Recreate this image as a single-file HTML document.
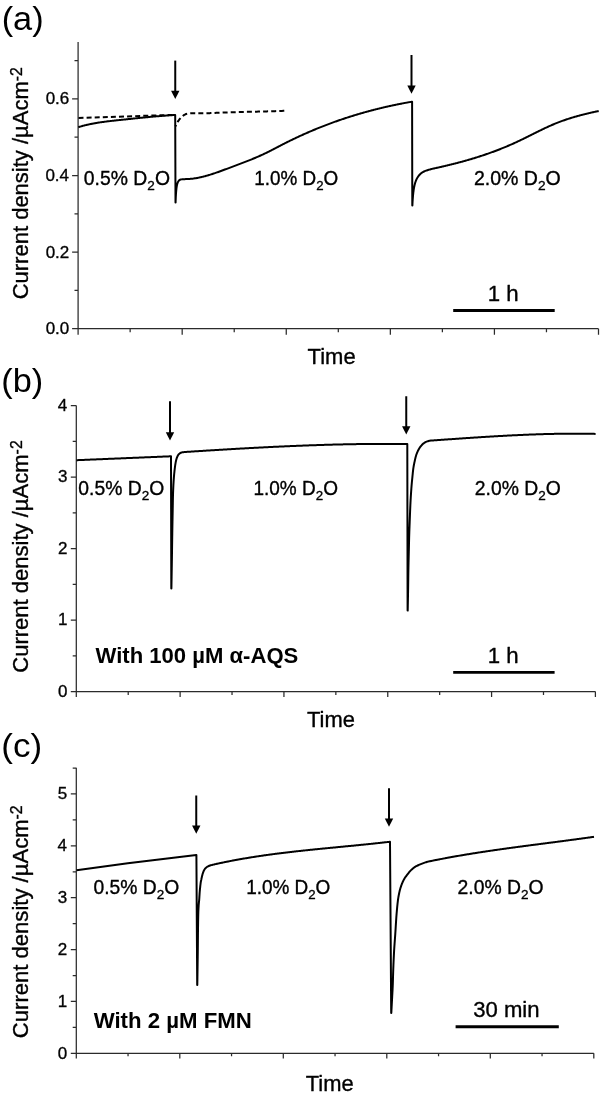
<!DOCTYPE html>
<html lang="en">
<head>
<meta charset="utf-8">
<title>Current density vs time with D2O additions</title>
<style>
html,body{margin:0;padding:0;background:#fff;}
body{width:607px;height:1100px;overflow:hidden;}
svg{display:block;}
svg text{font-family:"Liberation Sans", sans-serif;fill:#000;white-space:pre;}
</style>
</head>
<body>
<svg width="607" height="1100" viewBox="0 0 607 1100" role="img" aria-label="Three-panel chronoamperometry figure">
<rect x="0" y="0" width="607" height="1100" fill="#ffffff"/>
<g id="panel-a">
<text transform="translate(1.66 29.9) scale(1.0216 1)" font-size="33.6" fill="#000">(a)</text>
<path d="M78.1 42V328.7H598.5M72.1 328.7H78.1M72.1 252.1H78.1M72.1 175.5H78.1M72.1 98.9H78.1M74.5 290.4H78.1M74.5 213.8H78.1M74.5 137.2H78.1M74.5 60.6H78.1M78.1 328.7V334.7M130.14 328.7V332.3M182.18 328.7V334.7M234.22 328.7V332.3M286.26 328.7V334.7M338.3 328.7V332.3M390.34 328.7V334.7M442.38 328.7V332.3M494.42 328.7V334.7M546.46 328.7V332.3M598.5 328.7V334.7" fill="none" stroke="#2b2b2b" stroke-width="1.25" stroke-linecap="butt" stroke-linejoin="miter"/>
<text transform="translate(45.66 334.1) scale(1.05 1)" font-size="16.2" fill="#111" stroke="#111" stroke-width="0.35" stroke-linejoin="round">0.0</text>
<text transform="translate(45.66 257.5) scale(1.05 1)" font-size="16.2" fill="#111" stroke="#111" stroke-width="0.35" stroke-linejoin="round">0.2</text>
<text transform="translate(45.4 180.9) scale(1.05 1)" font-size="16.2" fill="#111" stroke="#111" stroke-width="0.35" stroke-linejoin="round">0.4</text>
<text transform="translate(45.66 104.3) scale(1.05 1)" font-size="16.2" fill="#111" stroke="#111" stroke-width="0.35" stroke-linejoin="round">0.6</text>
<text transform="translate(27.6 299.34) rotate(-90) scale(0.9918 1)" font-size="22.2" stroke="#000" stroke-width="0.35" stroke-linejoin="round">Current density /µAcm<tspan font-size="16" dy="-5.2">-2</tspan></text>
<path d="M78.5 118 L175.2 114.8" fill="none" stroke="#000" stroke-width="2" stroke-dasharray="5 3.1"/>
<path d="M175.5 126.4 L175.72 125.73 L175.98 125.07 L176.26 124.44 L176.56 123.81 L176.88 123.2 L177.22 122.6 L177.58 122 L177.96 121.42 L178.36 120.85 L178.77 120.29 L179.19 119.73 L179.63 119.18 L180.08 118.64 L180.55 118.11 L181.02 117.59 L181.52 117.08 L182.03 116.6 L182.55 116.14 L183.1 115.7 L183.66 115.29 L184.24 114.92 L184.84 114.59 L185.47 114.3 L186.11 114.06 L186.76 113.84 L187.43 113.67 L188.1 113.53 L188.79 113.42 L189.48 113.34 L190.17 113.29 L190.87 113.26 L191.58 113.24 L192.28 113.24 L192.99 113.25 L193.7 113.27 L194.41 113.29 L195.12 113.31 L195.83 113.32 L196.54 113.34 L197.24 113.35 L197.95 113.35 L198.65 113.36 L199.36 113.36 L200.06 113.36 L200.76 113.36 L201.46 113.35 L202.16 113.34 L202.86 113.33 L203.56 113.32 L204.25 113.31 L204.95 113.29 L205.65 113.28 L206.34 113.26 L207.04 113.24 L207.73 113.21 L208.43 113.19 L209.12 113.17 L209.81 113.14 L210.51 113.11 L211.2 113.08 L211.89 113.06 L212.58 113.03 L213.28 113 L213.97 112.97 L214.66 112.94 L215.35 112.91 L216.04 112.87 L216.74 112.84 L217.43 112.81 L218.12 112.78 L218.81 112.75 L219.5 112.72 L220.2 112.69 L220.89 112.66 L221.58 112.63 L222.28 112.61 L222.97 112.58 L223.67 112.55 L224.36 112.53 L225.05 112.5 L225.75 112.47 L226.44 112.45 L227.14 112.43 L227.83 112.4 L228.53 112.38 L229.23 112.35 L229.92 112.33 L230.62 112.31 L231.31 112.29 L232.01 112.27 L232.71 112.25 L233.4 112.22 L234.1 112.2 L234.8 112.18 L235.49 112.16 L236.19 112.14 L236.89 112.12 L237.59 112.11 L238.28 112.09 L238.98 112.07 L239.68 112.05 L240.38 112.03 L241.08 112.01 L241.78 112 L242.47 111.98 L243.17 111.96 L243.87 111.95 L244.57 111.93 L245.27 111.91 L245.97 111.89 L246.67 111.88 L247.36 111.86 L248.06 111.85 L248.76 111.83 L249.46 111.81 L250.16 111.8 L250.86 111.78 L251.56 111.76 L252.26 111.75 L252.95 111.73 L253.65 111.72 L254.35 111.7 L255.05 111.68 L255.75 111.67 L256.45 111.65 L257.15 111.63 L257.85 111.62 L258.55 111.6 L259.24 111.58 L259.94 111.57 L260.64 111.55 L261.34 111.53 L262.04 111.52 L262.74 111.5 L263.43 111.48 L264.13 111.46 L264.83 111.44 L265.53 111.43 L266.22 111.41 L266.92 111.39 L267.62 111.37 L268.32 111.35 L269.01 111.33 L269.71 111.31 L270.41 111.29 L271.1 111.27 L271.8 111.25 L272.5 111.23 L273.19 111.21 L273.89 111.18 L274.58 111.16 L275.28 111.14 L275.97 111.12 L276.67 111.09 L277.36 111.07 L278.06 111.04 L278.75 111.02 L279.45 110.99 L280.14 110.97 L280.84 110.94 L281.53 110.91 L282.22 110.89 L282.92 110.86 L283.61 110.83 L284.3 110.8" fill="none" stroke="#000" stroke-width="2.0" stroke-linejoin="round" stroke-linecap="butt" stroke-dasharray="5 3.1" stroke-dashoffset="3.35"/>
<path d="M78.3 127.2 L78.97 126.99 L79.64 126.79 L80.31 126.59 L80.98 126.39 L81.65 126.2 L82.32 126.01 L83 125.83 L83.67 125.65 L84.35 125.47 L85.02 125.3 L85.7 125.14 L86.38 124.97 L87.05 124.81 L87.73 124.66 L88.41 124.5 L89.09 124.36 L89.77 124.21 L90.45 124.07 L91.13 123.93 L91.82 123.79 L92.5 123.66 L93.18 123.53 L93.87 123.4 L94.55 123.28 L95.24 123.16 L95.92 123.04 L96.61 122.92 L97.29 122.81 L97.98 122.7 L98.67 122.59 L99.36 122.49 L100.04 122.38 L100.73 122.28 L101.42 122.18 L102.11 122.08 L102.8 121.99 L103.49 121.89 L104.18 121.8 L104.87 121.71 L105.56 121.62 L106.25 121.53 L106.94 121.45 L107.64 121.36 L108.33 121.28 L109.02 121.2 L109.71 121.12 L110.41 121.04 L111.1 120.96 L111.79 120.88 L112.48 120.8 L113.18 120.73 L113.87 120.65 L114.56 120.58 L115.26 120.5 L115.95 120.43 L116.64 120.35 L117.34 120.28 L118.03 120.21 L118.72 120.13 L119.42 120.06 L120.11 119.99 L120.8 119.92 L121.49 119.84 L122.19 119.77 L122.88 119.7 L123.57 119.62 L124.27 119.55 L124.96 119.47 L125.65 119.4 L126.35 119.33 L127.04 119.25 L127.73 119.18 L128.42 119.11 L129.12 119.03 L129.81 118.96 L130.5 118.89 L131.19 118.81 L131.89 118.74 L132.58 118.67 L133.27 118.6 L133.96 118.52 L134.66 118.45 L135.35 118.38 L136.04 118.31 L136.74 118.24 L137.43 118.16 L138.12 118.09 L138.81 118.02 L139.51 117.95 L140.2 117.88 L140.89 117.81 L141.58 117.74 L142.28 117.67 L142.97 117.6 L143.66 117.53 L144.35 117.46 L145.05 117.4 L145.74 117.33 L146.43 117.26 L147.13 117.19 L147.82 117.13 L148.51 117.06 L149.2 116.99 L149.9 116.93 L150.59 116.86 L151.28 116.8 L151.98 116.74 L152.67 116.67 L153.36 116.61 L154.06 116.55 L154.75 116.49 L155.44 116.43 L156.14 116.37 L156.83 116.31 L157.53 116.25 L158.22 116.19 L158.91 116.13 L159.61 116.07 L160.3 116.02 L161 115.96 L161.69 115.9 L162.38 115.85 L163.08 115.8 L163.77 115.74 L164.47 115.69 L165.16 115.64 L165.86 115.59 L166.55 115.54 L167.25 115.49 L167.94 115.44 L168.64 115.39 L169.33 115.34 L170.03 115.3 L170.72 115.25 L171.42 115.21 L172.12 115.16 L172.81 115.12 L173.51 115.08 L174.2 115.04 L174.9 115 L175.2 115 L175.5 202.4 L175.6 202.4 L175.61 201.7 L175.63 201 L175.65 200.3 L175.68 199.6 L175.71 198.9 L175.74 198.2 L175.77 197.5 L175.8 196.8 L175.84 196.11 L175.88 195.41 L175.92 194.71 L175.96 194.01 L176.01 193.31 L176.06 192.61 L176.12 191.92 L176.18 191.22 L176.24 190.52 L176.31 189.83 L176.39 189.13 L176.46 188.43 L176.55 187.74 L176.65 187.04 L176.75 186.35 L176.87 185.66 L177 184.98 L177.16 184.3 L177.36 183.62 L177.58 182.95 L177.84 182.31 L178.15 181.67 L178.52 181.06 L178.95 180.54 L179.49 180.05 L180.09 179.7 L180.74 179.51 L181.44 179.37 L182.14 179.29 L182.84 179.24 L183.54 179.2 L184.24 179.18 L184.94 179.15 L185.64 179.12 L186.34 179.09 L187.04 179.07 L187.74 179.04 L188.44 179.01 L189.14 178.97 L189.83 178.93 L190.53 178.86 L191.23 178.8 L191.92 178.72 L192.62 178.64 L193.31 178.56 L194.01 178.46 L194.7 178.36 L195.39 178.26 L196.08 178.14 L196.77 178.02 L197.46 177.9 L198.15 177.77 L198.83 177.63 L199.52 177.49 L200.2 177.34 L200.89 177.19 L201.57 177.04 L202.25 176.88 L202.93 176.71 L203.61 176.54 L204.29 176.37 L204.96 176.19 L205.64 176 L206.31 175.82 L206.99 175.63 L207.66 175.44 L208.33 175.24 L209 175.04 L209.67 174.83 L210.34 174.63 L211.01 174.42 L211.67 174.21 L212.34 173.99 L213.01 173.77 L213.67 173.55 L214.33 173.33 L215 173.11 L215.66 172.88 L216.32 172.65 L216.98 172.42 L217.64 172.19 L218.3 171.96 L218.96 171.72 L219.62 171.49 L220.28 171.25 L220.93 171.01 L221.59 170.77 L222.25 170.53 L222.9 170.28 L223.56 170.04 L224.22 169.8 L224.87 169.55 L225.53 169.31 L226.18 169.06 L226.84 168.82 L227.49 168.57 L228.15 168.33 L228.81 168.08 L229.46 167.84 L230.12 167.59 L230.77 167.35 L231.43 167.1 L232.08 166.86 L232.74 166.61 L233.39 166.37 L234.05 166.12 L234.7 165.88 L235.36 165.63 L236.02 165.39 L236.67 165.14 L237.33 164.9 L237.98 164.65 L238.64 164.4 L239.29 164.16 L239.95 163.91 L240.6 163.66 L241.25 163.41 L241.91 163.16 L242.56 162.91 L243.21 162.66 L243.87 162.41 L244.52 162.16 L245.17 161.91 L245.83 161.65 L246.48 161.4 L247.13 161.14 L247.78 160.89 L248.43 160.63 L249.08 160.37 L249.73 160.11 L250.38 159.85 L251.03 159.59 L251.68 159.32 L252.32 159.06 L252.97 158.79 L253.62 158.52 L254.26 158.25 L254.91 157.98 L255.55 157.71 L256.2 157.43 L256.84 157.16 L257.48 156.88 L258.12 156.6 L258.76 156.32 L259.4 156.04 L260.04 155.75 L260.68 155.47 L261.32 155.18 L261.96 154.89 L262.59 154.6 L263.23 154.3 L263.86 154.01 L264.49 153.71 L265.13 153.41 L265.76 153.1 L266.39 152.8 L267.02 152.49 L267.64 152.18 L268.27 151.87 L268.9 151.56 L269.52 151.25 L270.15 150.93 L270.77 150.61 L271.39 150.3 L272.02 149.98 L272.64 149.65 L273.26 149.33 L273.88 149.01 L274.5 148.69 L275.12 148.36 L275.74 148.04 L276.36 147.71 L276.98 147.39 L277.6 147.06 L278.22 146.74 L278.84 146.41 L279.46 146.09 L280.08 145.77 L280.7 145.44 L281.32 145.12 L281.94 144.8 L282.57 144.48 L283.19 144.16 L283.81 143.84 L284.44 143.52 L285.06 143.21 L285.68 142.89 L286.31 142.58 L286.94 142.26 L287.56 141.95 L288.19 141.64 L288.82 141.33 L289.44 141.02 L290.07 140.71 L290.7 140.4 L291.33 140.1 L291.96 139.79 L292.59 139.49 L293.22 139.18 L293.85 138.88 L294.48 138.58 L295.11 138.28 L295.75 137.98 L296.38 137.68 L297.01 137.38 L297.65 137.09 L298.28 136.79 L298.91 136.5 L299.55 136.2 L300.19 135.91 L300.82 135.62 L301.46 135.33 L302.1 135.04 L302.73 134.75 L303.37 134.47 L304.01 134.18 L304.65 133.89 L305.29 133.61 L305.93 133.33 L306.57 133.04 L307.21 132.76 L307.85 132.48 L308.49 132.21 L309.14 131.93 L309.78 131.65 L310.42 131.37 L311.07 131.1 L311.71 130.83 L312.35 130.55 L313 130.28 L313.64 130.01 L314.29 129.74 L314.94 129.47 L315.58 129.21 L316.23 128.94 L316.88 128.67 L317.53 128.41 L318.17 128.15 L318.82 127.88 L319.47 127.62 L320.12 127.36 L320.77 127.1 L321.42 126.85 L322.07 126.59 L322.72 126.33 L323.38 126.08 L324.03 125.83 L324.68 125.57 L325.33 125.32 L325.99 125.07 L326.64 124.82 L327.3 124.57 L327.95 124.33 L328.61 124.08 L329.26 123.83 L329.92 123.59 L330.57 123.35 L331.23 123.1 L331.89 122.86 L332.54 122.62 L333.2 122.38 L333.86 122.15 L334.52 121.91 L335.18 121.67 L335.84 121.44 L336.5 121.21 L337.16 120.97 L337.82 120.74 L338.48 120.51 L339.14 120.28 L339.8 120.05 L340.46 119.83 L341.12 119.6 L341.79 119.37 L342.45 119.15 L343.11 118.93 L343.78 118.71 L344.44 118.48 L345.1 118.27 L345.77 118.05 L346.43 117.83 L347.1 117.61 L347.76 117.4 L348.43 117.18 L349.1 116.97 L349.76 116.76 L350.43 116.54 L351.1 116.33 L351.77 116.12 L352.43 115.92 L353.1 115.71 L353.77 115.5 L354.44 115.3 L355.11 115.09 L355.78 114.89 L356.45 114.69 L357.12 114.49 L357.79 114.29 L358.46 114.09 L359.13 113.89 L359.8 113.7 L360.48 113.5 L361.15 113.31 L361.82 113.11 L362.49 112.92 L363.17 112.73 L363.84 112.54 L364.51 112.35 L365.19 112.16 L365.86 111.97 L366.54 111.79 L367.21 111.6 L367.89 111.42 L368.56 111.24 L369.24 111.05 L369.91 110.87 L370.59 110.69 L371.27 110.51 L371.94 110.34 L372.62 110.16 L373.3 109.98 L373.98 109.81 L374.65 109.63 L375.33 109.46 L376.01 109.29 L376.69 109.12 L377.37 108.95 L378.05 108.78 L378.73 108.61 L379.41 108.45 L380.09 108.28 L380.77 108.12 L381.45 107.95 L382.13 107.79 L382.81 107.63 L383.49 107.47 L384.17 107.31 L384.85 107.15 L385.53 106.99 L386.22 106.84 L386.9 106.68 L387.58 106.53 L388.26 106.38 L388.95 106.22 L389.63 106.07 L390.31 105.92 L391 105.77 L391.68 105.62 L392.37 105.48 L393.05 105.33 L393.73 105.19 L394.42 105.04 L395.1 104.9 L395.79 104.76 L396.47 104.61 L397.16 104.47 L397.85 104.33 L398.53 104.2 L399.22 104.06 L399.9 103.92 L400.59 103.79 L401.28 103.65 L401.96 103.52 L402.65 103.39 L403.34 103.25 L404.03 103.12 L404.71 102.99 L405.4 102.87 L406.09 102.74 L406.78 102.61 L407.47 102.49 L408.15 102.36 L408.84 102.24 L409.53 102.11 L410.22 101.99 L410.91 101.87 L411.6 101.75 L412.1 101.75 L412.3 205.5 L412.4 205.5 L412.42 204.8 L412.45 204.1 L412.48 203.4 L412.52 202.7 L412.56 202 L412.6 201.31 L412.64 200.61 L412.69 199.91 L412.74 199.21 L412.79 198.51 L412.84 197.82 L412.89 197.12 L412.95 196.42 L413.01 195.73 L413.07 195.03 L413.14 194.33 L413.21 193.64 L413.29 192.94 L413.37 192.24 L413.46 191.55 L413.55 190.86 L413.65 190.17 L413.75 189.47 L413.86 188.78 L413.97 188.09 L414.1 187.4 L414.23 186.71 L414.37 186.03 L414.52 185.34 L414.68 184.67 L414.85 183.99 L415.04 183.31 L415.24 182.64 L415.46 181.97 L415.69 181.31 L415.94 180.66 L416.2 180.01 L416.49 179.38 L416.81 178.75 L417.15 178.13 L417.5 177.52 L417.87 176.94 L418.26 176.36 L418.68 175.79 L419.13 175.24 L419.59 174.72 L420.07 174.23 L420.59 173.74 L421.12 173.28 L421.68 172.85 L422.26 172.45 L422.85 172.1 L423.46 171.77 L424.1 171.47 L424.74 171.19 L425.4 170.93 L426.05 170.68 L426.71 170.45 L427.37 170.23 L428.04 170.01 L428.71 169.81 L429.38 169.61 L430.06 169.42 L430.73 169.24 L431.41 169.06 L432.09 168.89 L432.77 168.73 L433.45 168.57 L434.14 168.43 L434.82 168.28 L435.51 168.14 L436.19 167.98 L436.87 167.83 L437.56 167.68 L438.24 167.53 L438.92 167.37 L439.6 167.22 L440.28 167.07 L440.97 166.91 L441.65 166.75 L442.33 166.6 L443.01 166.44 L443.69 166.28 L444.37 166.12 L445.06 165.96 L445.74 165.8 L446.42 165.64 L447.1 165.47 L447.78 165.31 L448.46 165.14 L449.14 164.98 L449.82 164.81 L450.5 164.65 L451.17 164.48 L451.85 164.31 L452.53 164.14 L453.21 163.97 L453.89 163.8 L454.57 163.62 L455.24 163.45 L455.92 163.28 L456.6 163.1 L457.28 162.92 L457.95 162.75 L458.63 162.57 L459.31 162.39 L459.98 162.21 L460.66 162.03 L461.33 161.84 L462.01 161.66 L462.68 161.48 L463.36 161.29 L464.03 161.1 L464.7 160.92 L465.38 160.73 L466.05 160.54 L466.72 160.35 L467.4 160.15 L468.07 159.96 L468.74 159.76 L469.41 159.57 L470.08 159.37 L470.76 159.17 L471.43 158.98 L472.1 158.78 L472.77 158.57 L473.44 158.37 L474.11 158.17 L474.77 157.96 L475.44 157.76 L476.11 157.55 L476.78 157.34 L477.45 157.13 L478.11 156.92 L478.78 156.71 L479.45 156.49 L480.11 156.28 L480.78 156.06 L481.44 155.84 L482.11 155.62 L482.77 155.4 L483.43 155.18 L484.1 154.96 L484.76 154.74 L485.42 154.51 L486.08 154.28 L486.75 154.06 L487.41 153.83 L488.07 153.6 L488.73 153.36 L489.39 153.13 L490.05 152.9 L490.7 152.66 L491.36 152.42 L492.02 152.18 L492.68 151.94 L493.33 151.7 L493.99 151.46 L494.64 151.22 L495.3 150.97 L495.95 150.72 L496.61 150.47 L497.26 150.22 L497.91 149.97 L498.57 149.72 L499.22 149.47 L499.87 149.21 L500.52 148.95 L501.17 148.69 L501.82 148.43 L502.47 148.17 L503.12 147.91 L503.76 147.65 L504.41 147.38 L505.06 147.11 L505.7 146.84 L506.35 146.57 L506.99 146.3 L507.64 146.03 L508.28 145.75 L508.92 145.48 L509.57 145.2 L510.21 144.92 L510.85 144.64 L511.49 144.36 L512.13 144.08 L512.77 143.79 L513.41 143.5 L514.04 143.22 L514.68 142.93 L515.32 142.64 L515.95 142.34 L516.59 142.05 L517.22 141.75 L517.85 141.46 L518.49 141.16 L519.12 140.86 L519.75 140.56 L520.38 140.26 L521.01 139.95 L521.64 139.65 L522.27 139.34 L522.9 139.04 L523.53 138.73 L524.16 138.42 L524.78 138.11 L525.41 137.8 L526.04 137.49 L526.67 137.18 L527.29 136.87 L527.92 136.56 L528.55 136.25 L529.17 135.94 L529.8 135.62 L530.42 135.31 L531.05 135 L531.68 134.69 L532.3 134.37 L532.93 134.06 L533.55 133.75 L534.18 133.44 L534.81 133.12 L535.43 132.81 L536.06 132.5 L536.69 132.19 L537.31 131.88 L537.94 131.57 L538.57 131.26 L539.2 130.95 L539.82 130.65 L540.45 130.34 L541.08 130.03 L541.71 129.73 L542.34 129.43 L542.97 129.12 L543.6 128.82 L544.24 128.52 L544.87 128.22 L545.5 127.93 L546.14 127.63 L546.77 127.34 L547.41 127.04 L548.04 126.75 L548.68 126.46 L549.32 126.17 L549.96 125.89 L550.59 125.61 L551.24 125.32 L551.88 125.04 L552.52 124.77 L553.16 124.49 L553.81 124.22 L554.45 123.95 L555.1 123.68 L555.75 123.42 L556.39 123.16 L557.04 122.9 L557.7 122.64 L558.35 122.39 L559 122.13 L559.65 121.88 L560.31 121.64 L560.96 121.39 L561.62 121.15 L562.28 120.91 L562.94 120.68 L563.6 120.44 L564.26 120.21 L564.92 119.98 L565.58 119.76 L566.24 119.53 L566.9 119.31 L567.57 119.09 L568.23 118.87 L568.9 118.66 L569.57 118.44 L570.23 118.23 L570.9 118.03 L571.57 117.82 L572.24 117.61 L572.91 117.41 L573.58 117.21 L574.25 117.02 L574.92 116.82 L575.59 116.63 L576.27 116.43 L576.94 116.24 L577.61 116.06 L578.29 115.87 L578.96 115.69 L579.64 115.5 L580.31 115.32 L580.99 115.14 L581.67 114.97 L582.34 114.79 L583.02 114.62 L583.7 114.45 L584.38 114.28 L585.06 114.11 L585.74 113.94 L586.42 113.77 L587.1 113.61 L587.78 113.45 L588.46 113.29 L589.14 113.12 L589.82 112.97 L590.5 112.81 L591.18 112.65 L591.87 112.5 L592.55 112.34 L593.23 112.19 L593.91 112.04 L594.6 111.89 L595.28 111.74 L595.96 111.59 L596.65 111.44 L597.33 111.29 L598.02 111.15 L598.7 111" fill="none" stroke="#000" stroke-width="2.0" stroke-linejoin="round" stroke-linecap="butt"/>
<line x1="175.25" y1="60.6" x2="175.25" y2="91.8" stroke="#000" stroke-width="2.0"/><polygon points="171.05,90.8 179.45,90.8 175.25,99" fill="#000"/>
<line x1="411.5" y1="55" x2="411.5" y2="86.55" stroke="#000" stroke-width="2.0"/><polygon points="407.3,85.55 415.7,85.55 411.5,93.75" fill="#000"/>
<text transform="translate(83.85 185.4) scale(0.9988 1)" font-size="19.4" fill="#000" stroke="#000" stroke-width="0.35" stroke-linejoin="round">0.5% D<tspan font-size="13.58" dy="5.04">2</tspan><tspan dy="-5.04">O</tspan></text>
<text transform="translate(254.34 185.2) scale(0.9731 1)" font-size="19.4" fill="#000" stroke="#000" stroke-width="0.35" stroke-linejoin="round">1.0% D<tspan font-size="13.58" dy="5.04">2</tspan><tspan dy="-5.04">O</tspan></text>
<text transform="translate(473.89 185.4) scale(1.0077 1)" font-size="19.4" fill="#000" stroke="#000" stroke-width="0.35" stroke-linejoin="round">2.0% D<tspan font-size="13.58" dy="5.04">2</tspan><tspan dy="-5.04">O</tspan></text>
<line x1="453.2" y1="310.5" x2="554.7" y2="310.5" stroke="#000" stroke-width="3"/>
<text transform="translate(487.7 301.4) scale(1.0259 1)" font-size="21.7" fill="#000" stroke="#000" stroke-width="0.35" stroke-linejoin="round">1 h</text>
<text transform="translate(307.59 364.3) scale(1.0141 1)" font-size="21.7" fill="#000" stroke="#000" stroke-width="0.35" stroke-linejoin="round">Time</text>
</g>
<g id="panel-b">
<text transform="translate(1.36 391.8) scale(1.0216 1)" font-size="33.6" fill="#000">(b)</text>
<path d="M76.3 405.4V691.5H595.4M70.8 691.5H76.3M70.8 620H76.3M70.8 548.5H76.3M70.8 477H76.3M70.8 405.5H76.3M72.7 655.75H76.3M72.7 584.25H76.3M72.7 512.75H76.3M72.7 441.25H76.3M76.3 691.5V697M128.21 691.5V695.1M180.12 691.5V697M232.03 691.5V695.1M283.94 691.5V697M335.85 691.5V695.1M387.76 691.5V697M439.67 691.5V695.1M491.58 691.5V697M543.49 691.5V695.1M595.4 691.5V697" fill="none" stroke="#2b2b2b" stroke-width="1.25" stroke-linecap="butt" stroke-linejoin="miter"/>
<text transform="translate(57.94 696.8) scale(1.05 1)" font-size="16.2" fill="#111" stroke="#111" stroke-width="0.35" stroke-linejoin="round">0</text>
<text transform="translate(57.94 625.3) scale(1.05 1)" font-size="16.2" fill="#111" stroke="#111" stroke-width="0.35" stroke-linejoin="round">1</text>
<text transform="translate(57.94 553.8) scale(1.05 1)" font-size="16.2" fill="#111" stroke="#111" stroke-width="0.35" stroke-linejoin="round">2</text>
<text transform="translate(57.94 482.3) scale(1.05 1)" font-size="16.2" fill="#111" stroke="#111" stroke-width="0.35" stroke-linejoin="round">3</text>
<text transform="translate(57.67 410.8) scale(1.05 1)" font-size="16.2" fill="#111" stroke="#111" stroke-width="0.35" stroke-linejoin="round">4</text>
<text transform="translate(27.6 672.74) rotate(-90) scale(0.9925 1)" font-size="22.2" stroke="#000" stroke-width="0.35" stroke-linejoin="round">Current density /µAcm<tspan font-size="16" dy="-5.2">-2</tspan></text>
<path d="M76.5 460.2 L77.2 460.17 L77.89 460.14 L78.59 460.11 L79.29 460.08 L79.99 460.06 L80.68 460.03 L81.38 460 L82.08 459.97 L82.77 459.94 L83.47 459.91 L84.17 459.88 L84.86 459.85 L85.56 459.83 L86.26 459.8 L86.96 459.77 L87.65 459.74 L88.35 459.71 L89.05 459.68 L89.74 459.65 L90.44 459.62 L91.14 459.59 L91.83 459.57 L92.53 459.54 L93.23 459.51 L93.93 459.48 L94.62 459.45 L95.32 459.42 L96.02 459.39 L96.71 459.36 L97.41 459.34 L98.11 459.31 L98.81 459.28 L99.5 459.25 L100.2 459.22 L100.9 459.19 L101.59 459.16 L102.29 459.13 L102.99 459.1 L103.68 459.08 L104.38 459.05 L105.08 459.02 L105.78 458.99 L106.47 458.96 L107.17 458.93 L107.87 458.9 L108.56 458.87 L109.26 458.84 L109.96 458.82 L110.65 458.79 L111.35 458.76 L112.05 458.73 L112.75 458.7 L113.44 458.67 L114.14 458.64 L114.84 458.61 L115.53 458.59 L116.23 458.56 L116.93 458.53 L117.63 458.5 L118.32 458.47 L119.02 458.44 L119.72 458.41 L120.41 458.38 L121.11 458.35 L121.81 458.33 L122.5 458.3 L123.2 458.27 L123.9 458.24 L124.6 458.21 L125.29 458.18 L125.99 458.15 L126.69 458.12 L127.38 458.09 L128.08 458.07 L128.78 458.04 L129.47 458.01 L130.17 457.98 L130.87 457.95 L131.57 457.92 L132.26 457.89 L132.96 457.86 L133.66 457.83 L134.35 457.8 L135.05 457.78 L135.75 457.75 L136.45 457.72 L137.14 457.69 L137.84 457.66 L138.54 457.63 L139.23 457.6 L139.93 457.57 L140.63 457.54 L141.32 457.52 L142.02 457.49 L142.72 457.46 L143.42 457.43 L144.11 457.4 L144.81 457.37 L145.51 457.34 L146.2 457.31 L146.9 457.28 L147.6 457.26 L148.29 457.23 L148.99 457.2 L149.69 457.17 L150.39 457.14 L151.08 457.11 L151.78 457.08 L152.48 457.05 L153.17 457.02 L153.87 457 L154.57 456.97 L155.27 456.94 L155.96 456.91 L156.66 456.88 L157.36 456.85 L158.05 456.82 L158.75 456.79 L159.45 456.76 L160.14 456.73 L160.84 456.71 L161.54 456.68 L162.24 456.65 L162.93 456.62 L163.63 456.59 L164.33 456.56 L165.02 456.53 L165.72 456.5 L166.42 456.47 L167.11 456.44 L167.81 456.42 L168.51 456.39 L169.21 456.36 L169.9 456.33 L170.6 456.3 L171 456.3 L171.3 588.5 L171.4 588.5 L171.41 587.8 L171.43 587.1 L171.44 586.4 L171.45 585.71 L171.46 585.01 L171.48 584.31 L171.49 583.61 L171.5 582.91 L171.51 582.21 L171.52 581.51 L171.54 580.82 L171.55 580.12 L171.56 579.42 L171.57 578.72 L171.59 578.02 L171.6 577.32 L171.61 576.62 L171.62 575.93 L171.63 575.23 L171.65 574.53 L171.66 573.83 L171.67 573.13 L171.68 572.43 L171.69 571.73 L171.7 571.03 L171.72 570.34 L171.73 569.64 L171.74 568.94 L171.75 568.24 L171.76 567.54 L171.77 566.84 L171.79 566.14 L171.8 565.45 L171.81 564.75 L171.82 564.05 L171.83 563.35 L171.84 562.65 L171.85 561.95 L171.86 561.25 L171.88 560.56 L171.89 559.86 L171.9 559.16 L171.91 558.46 L171.92 557.76 L171.93 557.06 L171.94 556.36 L171.95 555.67 L171.96 554.97 L171.97 554.27 L171.98 553.57 L171.99 552.87 L172 552.17 L172.01 551.47 L172.02 550.77 L172.03 550.08 L172.04 549.38 L172.05 548.68 L172.06 547.98 L172.07 547.28 L172.08 546.58 L172.09 545.88 L172.1 545.19 L172.11 544.49 L172.12 543.79 L172.13 543.09 L172.14 542.39 L172.15 541.69 L172.16 540.99 L172.17 540.3 L172.18 539.6 L172.19 538.9 L172.2 538.2 L172.21 537.5 L172.22 536.8 L172.24 536.1 L172.25 535.4 L172.26 534.71 L172.27 534.01 L172.28 533.31 L172.29 532.61 L172.3 531.91 L172.31 531.21 L172.32 530.51 L172.34 529.82 L172.35 529.12 L172.36 528.42 L172.37 527.72 L172.38 527.02 L172.4 526.32 L172.41 525.62 L172.42 524.93 L172.43 524.23 L172.45 523.53 L172.46 522.83 L172.47 522.13 L172.48 521.43 L172.5 520.73 L172.51 520.04 L172.52 519.34 L172.54 518.64 L172.55 517.94 L172.56 517.24 L172.58 516.54 L172.59 515.84 L172.6 515.15 L172.62 514.45 L172.63 513.75 L172.64 513.05 L172.66 512.35 L172.67 511.65 L172.68 510.95 L172.7 510.26 L172.71 509.56 L172.72 508.86 L172.73 508.16 L172.75 507.46 L172.76 506.76 L172.77 506.06 L172.78 505.37 L172.8 504.67 L172.81 503.97 L172.82 503.27 L172.83 502.57 L172.85 501.87 L172.86 501.17 L172.87 500.47 L172.89 499.78 L172.9 499.08 L172.92 498.38 L172.93 497.68 L172.95 496.98 L172.97 496.28 L172.98 495.59 L173 494.89 L173.02 494.19 L173.04 493.49 L173.07 492.79 L173.09 492.09 L173.12 491.4 L173.14 490.7 L173.17 490 L173.2 489.3 L173.23 488.6 L173.26 487.9 L173.29 487.21 L173.33 486.51 L173.36 485.81 L173.39 485.11 L173.43 484.42 L173.47 483.72 L173.51 483.02 L173.55 482.32 L173.59 481.62 L173.64 480.93 L173.69 480.23 L173.73 479.53 L173.78 478.84 L173.84 478.14 L173.89 477.44 L173.94 476.75 L174 476.05 L174.06 475.35 L174.12 474.66 L174.19 473.96 L174.26 473.27 L174.33 472.57 L174.4 471.88 L174.47 471.18 L174.55 470.49 L174.62 469.79 L174.7 469.1 L174.79 468.4 L174.87 467.71 L174.96 467.02 L175.05 466.32 L175.15 465.63 L175.25 464.94 L175.36 464.25 L175.47 463.56 L175.59 462.87 L175.72 462.18 L175.86 461.5 L176.01 460.81 L176.16 460.13 L176.34 459.46 L176.53 458.79 L176.75 458.12 L176.99 457.46 L177.25 456.82 L177.54 456.18 L177.87 455.55 L178.24 454.96 L178.65 454.41 L179.13 453.88 L179.67 453.41 L180.25 453.07 L180.88 452.77 L181.55 452.53 L182.24 452.35 L182.92 452.24 L183.6 452.15 L184.29 452.08 L184.99 452.01 L185.69 451.96 L186.4 451.91 L187.1 451.86 L187.8 451.81 L188.5 451.76 L189.19 451.72 L189.89 451.67 L190.59 451.63 L191.29 451.59 L191.98 451.54 L192.68 451.5 L193.38 451.45 L194.07 451.41 L194.77 451.36 L195.47 451.32 L196.17 451.28 L196.86 451.23 L197.56 451.19 L198.26 451.14 L198.96 451.1 L199.65 451.05 L200.35 451.01 L201.05 450.97 L201.75 450.92 L202.44 450.88 L203.14 450.83 L203.84 450.79 L204.53 450.75 L205.23 450.7 L205.93 450.66 L206.63 450.62 L207.32 450.57 L208.02 450.53 L208.72 450.49 L209.42 450.44 L210.11 450.4 L210.81 450.36 L211.51 450.31 L212.21 450.27 L212.9 450.23 L213.6 450.19 L214.3 450.14 L215 450.1 L215.69 450.06 L216.39 450.02 L217.09 449.97 L217.78 449.93 L218.48 449.89 L219.18 449.85 L219.88 449.8 L220.57 449.76 L221.27 449.72 L221.97 449.68 L222.67 449.64 L223.36 449.6 L224.06 449.55 L224.76 449.51 L225.46 449.47 L226.15 449.43 L226.85 449.39 L227.55 449.35 L228.25 449.31 L228.94 449.27 L229.64 449.22 L230.34 449.18 L231.04 449.14 L231.73 449.1 L232.43 449.06 L233.13 449.02 L233.83 448.98 L234.52 448.94 L235.22 448.9 L235.92 448.86 L236.62 448.82 L237.31 448.78 L238.01 448.74 L238.71 448.7 L239.41 448.66 L240.11 448.62 L240.8 448.58 L241.5 448.54 L242.2 448.51 L242.9 448.47 L243.59 448.43 L244.29 448.39 L244.99 448.35 L245.69 448.31 L246.38 448.27 L247.08 448.24 L247.78 448.2 L248.48 448.16 L249.17 448.12 L249.87 448.08 L250.57 448.05 L251.27 448.01 L251.97 447.97 L252.66 447.93 L253.36 447.9 L254.06 447.86 L254.76 447.82 L255.45 447.78 L256.15 447.75 L256.85 447.71 L257.55 447.67 L258.25 447.64 L258.94 447.6 L259.64 447.57 L260.34 447.53 L261.04 447.49 L261.73 447.46 L262.43 447.42 L263.13 447.39 L263.83 447.35 L264.53 447.32 L265.22 447.28 L265.92 447.25 L266.62 447.21 L267.32 447.18 L268.01 447.14 L268.71 447.11 L269.41 447.07 L270.11 447.04 L270.81 447.01 L271.5 446.97 L272.2 446.94 L272.9 446.9 L273.6 446.87 L274.3 446.84 L274.99 446.8 L275.69 446.77 L276.39 446.74 L277.09 446.71 L277.78 446.67 L278.48 446.64 L279.18 446.61 L279.88 446.58 L280.58 446.54 L281.27 446.51 L281.97 446.48 L282.67 446.45 L283.37 446.42 L284.07 446.39 L284.76 446.35 L285.46 446.32 L286.16 446.29 L286.86 446.26 L287.56 446.23 L288.25 446.2 L288.95 446.17 L289.65 446.14 L290.35 446.11 L291.05 446.08 L291.75 446.05 L292.44 446.02 L293.14 445.99 L293.84 445.96 L294.54 445.94 L295.24 445.91 L295.93 445.88 L296.63 445.85 L297.33 445.82 L298.03 445.79 L298.73 445.77 L299.42 445.74 L300.12 445.71 L300.82 445.68 L301.52 445.66 L302.22 445.63 L302.92 445.6 L303.61 445.58 L304.31 445.55 L305.01 445.52 L305.71 445.5 L306.41 445.47 L307.1 445.44 L307.8 445.42 L308.5 445.39 L309.2 445.37 L309.9 445.34 L310.6 445.32 L311.29 445.29 L311.99 445.27 L312.69 445.25 L313.39 445.22 L314.09 445.2 L314.79 445.17 L315.48 445.15 L316.18 445.13 L316.88 445.1 L317.58 445.08 L318.28 445.06 L318.98 445.04 L319.67 445.01 L320.37 444.99 L321.07 444.97 L321.77 444.95 L322.47 444.93 L323.17 444.9 L323.86 444.88 L324.56 444.86 L325.26 444.84 L325.96 444.82 L326.66 444.8 L327.36 444.78 L328.05 444.76 L328.75 444.74 L329.45 444.72 L330.15 444.7 L330.85 444.68 L331.55 444.66 L332.25 444.64 L332.94 444.62 L333.64 444.61 L334.34 444.59 L335.04 444.57 L335.74 444.55 L336.44 444.54 L337.13 444.52 L337.83 444.5 L338.53 444.48 L339.23 444.47 L339.93 444.45 L340.63 444.43 L341.33 444.42 L342.02 444.4 L342.72 444.39 L343.42 444.37 L344.12 444.36 L344.82 444.34 L345.52 444.33 L346.22 444.31 L346.91 444.3 L347.61 444.28 L348.31 444.27 L349.01 444.26 L349.71 444.24 L350.41 444.23 L351.11 444.22 L351.8 444.2 L352.5 444.19 L353.2 444.18 L353.9 444.17 L354.6 444.16 L355.3 444.15 L356 444.13 L356.69 444.12 L357.39 444.11 L358.09 444.1 L358.79 444.09 L359.49 444.08 L360.19 444.07 L360.89 444.06 L361.59 444.05 L362.28 444.04 L362.98 444.03 L363.68 444.03 L364.38 444.02 L365.08 444.01 L365.78 444 L366.48 443.99 L367.17 443.99 L367.87 443.98 L368.57 443.97 L369.27 443.97 L369.97 443.96 L370.67 443.95 L371.37 443.95 L372.07 443.94 L372.76 443.94 L373.46 443.93 L374.16 443.93 L374.86 443.92 L375.56 443.92 L376.26 443.91 L376.96 443.91 L377.65 443.91 L378.35 443.9 L379.05 443.9 L379.75 443.9 L380.45 443.89 L381.15 443.89 L381.85 443.89 L382.55 443.89 L383.24 443.89 L383.94 443.89 L384.64 443.88 L385.34 443.88 L386.04 443.88 L386.74 443.88 L387.44 443.88 L388.14 443.88 L388.83 443.88 L389.53 443.89 L390.23 443.89 L390.93 443.89 L391.63 443.89 L392.33 443.89 L393.03 443.89 L393.72 443.9 L394.42 443.9 L395.12 443.9 L395.82 443.91 L396.52 443.91 L397.22 443.91 L397.92 443.92 L398.62 443.92 L399.31 443.93 L400.01 443.93 L400.71 443.94 L401.41 443.94 L402.11 443.95 L402.81 443.96 L403.51 443.96 L404.21 443.97 L404.9 443.98 L405.6 443.98 L406.3 443.99 L407 444 L407.3 444 L407.6 610.6 L407.7 610.6 L407.72 609.9 L407.73 609.2 L407.75 608.5 L407.76 607.8 L407.78 607.1 L407.79 606.4 L407.8 605.7 L407.82 605 L407.83 604.3 L407.85 603.61 L407.86 602.91 L407.88 602.21 L407.89 601.51 L407.9 600.81 L407.92 600.11 L407.93 599.41 L407.94 598.71 L407.96 598.01 L407.97 597.31 L407.98 596.61 L408 595.91 L408.01 595.21 L408.02 594.51 L408.03 593.81 L408.05 593.11 L408.06 592.41 L408.07 591.71 L408.08 591.01 L408.09 590.32 L408.11 589.62 L408.12 588.92 L408.13 588.22 L408.14 587.52 L408.15 586.82 L408.16 586.12 L408.17 585.42 L408.18 584.72 L408.19 584.02 L408.2 583.32 L408.21 582.62 L408.22 581.92 L408.23 581.22 L408.24 580.52 L408.25 579.82 L408.26 579.12 L408.26 578.42 L408.27 577.72 L408.28 577.02 L408.29 576.32 L408.3 575.62 L408.31 574.93 L408.32 574.23 L408.33 573.53 L408.34 572.83 L408.36 572.13 L408.37 571.43 L408.38 570.73 L408.39 570.03 L408.4 569.33 L408.42 568.63 L408.43 567.93 L408.44 567.23 L408.46 566.53 L408.47 565.83 L408.49 565.13 L408.5 564.43 L408.52 563.73 L408.53 563.03 L408.55 562.33 L408.57 561.64 L408.58 560.94 L408.6 560.24 L408.62 559.54 L408.63 558.84 L408.65 558.14 L408.67 557.44 L408.68 556.74 L408.7 556.04 L408.72 555.34 L408.74 554.64 L408.75 553.94 L408.77 553.24 L408.79 552.54 L408.8 551.84 L408.82 551.14 L408.84 550.44 L408.85 549.75 L408.87 549.05 L408.89 548.35 L408.9 547.65 L408.92 546.95 L408.93 546.25 L408.95 545.55 L408.97 544.85 L408.98 544.15 L409 543.45 L409.02 542.75 L409.03 542.05 L409.05 541.35 L409.07 540.65 L409.09 539.95 L409.1 539.25 L409.12 538.55 L409.14 537.86 L409.16 537.16 L409.18 536.46 L409.2 535.76 L409.22 535.06 L409.24 534.36 L409.27 533.66 L409.29 532.96 L409.31 532.26 L409.33 531.56 L409.36 530.86 L409.38 530.16 L409.41 529.46 L409.43 528.77 L409.46 528.07 L409.48 527.37 L409.51 526.67 L409.53 525.97 L409.56 525.27 L409.59 524.57 L409.61 523.87 L409.64 523.17 L409.67 522.47 L409.69 521.77 L409.72 521.07 L409.75 520.38 L409.77 519.68 L409.8 518.98 L409.83 518.28 L409.85 517.58 L409.88 516.88 L409.91 516.18 L409.93 515.48 L409.96 514.78 L409.99 514.08 L410.01 513.38 L410.04 512.69 L410.07 511.99 L410.1 511.29 L410.12 510.59 L410.15 509.89 L410.18 509.19 L410.21 508.49 L410.24 507.79 L410.27 507.09 L410.3 506.39 L410.33 505.69 L410.36 505 L410.4 504.3 L410.43 503.6 L410.46 502.9 L410.5 502.2 L410.54 501.5 L410.57 500.8 L410.61 500.11 L410.65 499.41 L410.69 498.71 L410.73 498.01 L410.77 497.31 L410.81 496.61 L410.86 495.91 L410.9 495.22 L410.94 494.52 L410.99 493.82 L411.04 493.12 L411.08 492.42 L411.13 491.73 L411.18 491.03 L411.23 490.33 L411.28 489.63 L411.33 488.93 L411.38 488.24 L411.43 487.54 L411.49 486.84 L411.54 486.14 L411.6 485.45 L411.65 484.75 L411.71 484.05 L411.77 483.36 L411.84 482.66 L411.9 481.96 L411.97 481.27 L412.04 480.57 L412.11 479.87 L412.18 479.18 L412.25 478.48 L412.32 477.78 L412.39 477.09 L412.46 476.39 L412.53 475.7 L412.6 475 L412.66 474.3 L412.73 473.6 L412.8 472.91 L412.87 472.21 L412.95 471.52 L413.02 470.82 L413.1 470.13 L413.19 469.43 L413.28 468.74 L413.38 468.05 L413.48 467.36 L413.6 466.67 L413.72 465.98 L413.84 465.29 L413.97 464.6 L414.11 463.91 L414.25 463.23 L414.39 462.54 L414.54 461.86 L414.69 461.17 L414.84 460.49 L414.99 459.81 L415.14 459.13 L415.3 458.44 L415.47 457.76 L415.65 457.08 L415.83 456.41 L416.03 455.74 L416.24 455.07 L416.46 454.41 L416.7 453.75 L416.95 453.1 L417.22 452.45 L417.5 451.81 L417.79 451.17 L418.09 450.54 L418.41 449.92 L418.75 449.3 L419.1 448.69 L419.46 448.1 L419.85 447.52 L420.26 446.95 L420.68 446.39 L421.13 445.84 L421.58 445.32 L422.06 444.81 L422.56 444.31 L423.07 443.83 L423.61 443.39 L424.17 442.98 L424.76 442.58 L425.36 442.22 L425.98 441.91 L426.63 441.63 L427.28 441.38 L427.95 441.17 L428.63 440.99 L429.31 440.84 L430 440.71 L430.69 440.61 L431.39 440.55 L432.09 440.49 L432.78 440.45 L433.48 440.4 L434.18 440.35 L434.88 440.31 L435.58 440.26 L436.28 440.21 L436.97 440.16 L437.67 440.11 L438.37 440.06 L439.07 440.01 L439.76 439.96 L440.46 439.91 L441.16 439.86 L441.86 439.81 L442.56 439.77 L443.25 439.72 L443.95 439.67 L444.65 439.62 L445.35 439.57 L446.05 439.52 L446.74 439.47 L447.44 439.42 L448.14 439.37 L448.84 439.32 L449.54 439.28 L450.23 439.23 L450.93 439.18 L451.63 439.13 L452.33 439.08 L453.02 439.03 L453.72 438.98 L454.42 438.94 L455.12 438.89 L455.82 438.84 L456.51 438.79 L457.21 438.74 L457.91 438.69 L458.61 438.65 L459.31 438.6 L460 438.55 L460.7 438.5 L461.4 438.46 L462.1 438.41 L462.8 438.36 L463.49 438.31 L464.19 438.26 L464.89 438.22 L465.59 438.17 L466.29 438.12 L466.98 438.08 L467.68 438.03 L468.38 437.98 L469.08 437.94 L469.78 437.89 L470.47 437.84 L471.17 437.8 L471.87 437.75 L472.57 437.7 L473.27 437.66 L473.97 437.61 L474.66 437.57 L475.36 437.52 L476.06 437.48 L476.76 437.43 L477.46 437.39 L478.15 437.34 L478.85 437.3 L479.55 437.25 L480.25 437.21 L480.95 437.16 L481.64 437.12 L482.34 437.07 L483.04 437.03 L483.74 436.99 L484.44 436.94 L485.14 436.9 L485.83 436.86 L486.53 436.81 L487.23 436.77 L487.93 436.73 L488.63 436.69 L489.33 436.64 L490.02 436.6 L490.72 436.56 L491.42 436.52 L492.12 436.48 L492.82 436.43 L493.52 436.39 L494.21 436.35 L494.91 436.31 L495.61 436.27 L496.31 436.23 L497.01 436.19 L497.71 436.15 L498.41 436.11 L499.1 436.07 L499.8 436.03 L500.5 435.99 L501.2 435.95 L501.9 435.92 L502.6 435.88 L503.29 435.84 L503.99 435.8 L504.69 435.76 L505.39 435.73 L506.09 435.69 L506.79 435.65 L507.49 435.62 L508.19 435.58 L508.88 435.54 L509.58 435.51 L510.28 435.47 L510.98 435.44 L511.68 435.4 L512.38 435.37 L513.08 435.33 L513.78 435.3 L514.47 435.26 L515.17 435.23 L515.87 435.2 L516.57 435.16 L517.27 435.13 L517.97 435.1 L518.67 435.07 L519.37 435.04 L520.06 435 L520.76 434.97 L521.46 434.94 L522.16 434.91 L522.86 434.88 L523.56 434.85 L524.26 434.82 L524.96 434.79 L525.66 434.76 L526.36 434.73 L527.05 434.7 L527.75 434.68 L528.45 434.65 L529.15 434.62 L529.85 434.59 L530.55 434.57 L531.25 434.54 L531.95 434.51 L532.65 434.49 L533.35 434.46 L534.05 434.44 L534.74 434.41 L535.44 434.39 L536.14 434.36 L536.84 434.34 L537.54 434.32 L538.24 434.29 L538.94 434.27 L539.64 434.25 L540.34 434.23 L541.04 434.21 L541.74 434.19 L542.44 434.16 L543.14 434.14 L543.83 434.12 L544.53 434.1 L545.23 434.09 L545.93 434.07 L546.63 434.05 L547.33 434.03 L548.03 434.01 L548.73 434 L549.43 433.98 L550.13 433.96 L550.83 433.95 L551.53 433.93 L552.23 433.92 L552.93 433.9 L553.63 433.89 L554.33 433.87 L555.03 433.86 L555.73 433.85 L556.42 433.83 L557.12 433.82 L557.82 433.81 L558.52 433.8 L559.22 433.79 L559.92 433.78 L560.62 433.77 L561.32 433.76 L562.02 433.75 L562.72 433.74 L563.42 433.73 L564.12 433.72 L564.82 433.72 L565.52 433.71 L566.22 433.7 L566.92 433.7 L567.62 433.69 L568.32 433.69 L569.02 433.68 L569.72 433.68 L570.42 433.68 L571.12 433.67 L571.81 433.67 L572.51 433.67 L573.21 433.67 L573.91 433.67 L574.61 433.67 L575.31 433.67 L576.01 433.67 L576.71 433.67 L577.41 433.67 L578.11 433.67 L578.81 433.68 L579.51 433.68 L580.21 433.68 L580.91 433.69 L581.61 433.69 L582.31 433.7 L583.01 433.7 L583.71 433.71 L584.41 433.72 L585.11 433.72 L585.81 433.73 L586.51 433.74 L587.21 433.75 L587.91 433.76 L588.61 433.77 L589.3 433.78 L590 433.79 L590.7 433.8 L591.4 433.81 L592.1 433.83 L592.8 433.84 L593.5 433.85 L594.2 433.87 L594.9 433.88 L595.6 433.9" fill="none" stroke="#000" stroke-width="2.0" stroke-linejoin="round" stroke-linecap="butt"/>
<line x1="170" y1="401.25" x2="170" y2="433.3" stroke="#000" stroke-width="2.0"/><polygon points="165.8,432.3 174.2,432.3 170,440.5" fill="#000"/>
<line x1="406.25" y1="396.25" x2="406.25" y2="427.3" stroke="#000" stroke-width="2.0"/><polygon points="402.05,426.3 410.45,426.3 406.25,434.5" fill="#000"/>
<text transform="translate(78.35 494.6) scale(0.9953 1)" font-size="19.4" fill="#000" stroke="#000" stroke-width="0.35" stroke-linejoin="round">0.5% D<tspan font-size="13.58" dy="5.04">2</tspan><tspan dy="-5.04">O</tspan></text>
<text transform="translate(253.43 494.5) scale(0.9803 1)" font-size="19.4" fill="#000" stroke="#000" stroke-width="0.35" stroke-linejoin="round">1.0% D<tspan font-size="13.58" dy="5.04">2</tspan><tspan dy="-5.04">O</tspan></text>
<text transform="translate(474.8 494.6) scale(0.997 1)" font-size="19.4" fill="#000" stroke="#000" stroke-width="0.35" stroke-linejoin="round">2.0% D<tspan font-size="13.58" dy="5.04">2</tspan><tspan dy="-5.04">O</tspan></text>
<line x1="453.2" y1="672.4" x2="554.6" y2="672.4" stroke="#000" stroke-width="2.9"/>
<text transform="translate(487.7 662.6) scale(1.0259 1)" font-size="21.7" fill="#000" stroke="#000" stroke-width="0.35" stroke-linejoin="round">1 h</text>
<text transform="translate(95.5 663.3) scale(1.0184 1)" font-size="21.7" font-weight="bold" fill="#000">With 100 µM α-AQS</text>
<text transform="translate(306.99 726.5) scale(1.0109 1)" font-size="21.7" fill="#000" stroke="#000" stroke-width="0.35" stroke-linejoin="round">Time</text>
</g>
<g id="panel-c">
<text transform="translate(1.31 756.6) scale(1.0429 1)" font-size="33.6" fill="#000">(c)</text>
<path d="M76.3 767.8V1053.3H593.8M70.8 1053.3H76.3M70.8 1001.43H76.3M70.8 949.56H76.3M70.8 897.69H76.3M70.8 845.82H76.3M70.8 793.95H76.3M72.7 1027.37H76.3M72.7 975.5H76.3M72.7 923.62H76.3M72.7 871.75H76.3M72.7 819.88H76.3M72.7 768.01H76.3M76.3 1053.3V1058.6M128.05 1053.3V1056.3M179.8 1053.3V1058.6M231.55 1053.3V1056.3M283.3 1053.3V1058.6M335.05 1053.3V1056.3M386.8 1053.3V1058.6M438.55 1053.3V1056.3M490.3 1053.3V1058.6M542.05 1053.3V1056.3M593.8 1053.3V1058.6" fill="none" stroke="#2b2b2b" stroke-width="1.25" stroke-linecap="butt" stroke-linejoin="miter"/>
<text transform="translate(57.74 1058.6) scale(1.05 1)" font-size="16.2" fill="#111" stroke="#111" stroke-width="0.35" stroke-linejoin="round">0</text>
<text transform="translate(57.74 1006.73) scale(1.05 1)" font-size="16.2" fill="#111" stroke="#111" stroke-width="0.35" stroke-linejoin="round">1</text>
<text transform="translate(57.74 954.86) scale(1.05 1)" font-size="16.2" fill="#111" stroke="#111" stroke-width="0.35" stroke-linejoin="round">2</text>
<text transform="translate(57.74 902.99) scale(1.05 1)" font-size="16.2" fill="#111" stroke="#111" stroke-width="0.35" stroke-linejoin="round">3</text>
<text transform="translate(57.48 851.12) scale(1.05 1)" font-size="16.2" fill="#111" stroke="#111" stroke-width="0.35" stroke-linejoin="round">4</text>
<text transform="translate(57.74 799.25) scale(1.05 1)" font-size="16.2" fill="#111" stroke="#111" stroke-width="0.35" stroke-linejoin="round">5</text>
<text transform="translate(27.6 1038.14) rotate(-90) scale(0.9942 1)" font-size="22.2" stroke="#000" stroke-width="0.35" stroke-linejoin="round">Current density /µAcm<tspan font-size="16" dy="-5.2">-2</tspan></text>
<path d="M76.5 870.2 L127.8 863.2 L196.3 855 L196.4 855 L197.2 985 L197.3 985 L197.31 984.3 L197.32 983.6 L197.33 982.9 L197.34 982.2 L197.36 981.5 L197.37 980.8 L197.38 980.1 L197.39 979.4 L197.4 978.7 L197.41 978 L197.42 977.3 L197.43 976.6 L197.44 975.9 L197.45 975.2 L197.46 974.5 L197.47 973.8 L197.48 973.1 L197.49 972.4 L197.5 971.7 L197.51 971 L197.52 970.3 L197.53 969.6 L197.54 968.9 L197.55 968.21 L197.56 967.51 L197.57 966.81 L197.58 966.11 L197.59 965.41 L197.6 964.71 L197.61 964.01 L197.62 963.31 L197.63 962.61 L197.64 961.91 L197.65 961.21 L197.66 960.51 L197.67 959.81 L197.68 959.11 L197.69 958.41 L197.7 957.71 L197.71 957.01 L197.72 956.31 L197.73 955.61 L197.74 954.91 L197.75 954.21 L197.76 953.51 L197.77 952.81 L197.77 952.11 L197.78 951.41 L197.79 950.71 L197.8 950.01 L197.81 949.31 L197.82 948.61 L197.82 947.91 L197.83 947.21 L197.84 946.51 L197.84 945.81 L197.85 945.11 L197.86 944.41 L197.86 943.71 L197.87 943.01 L197.88 942.31 L197.88 941.61 L197.89 940.91 L197.89 940.21 L197.9 939.51 L197.91 938.81 L197.91 938.11 L197.92 937.41 L197.93 936.71 L197.93 936.01 L197.94 935.31 L197.95 934.61 L197.95 933.91 L197.96 933.21 L197.97 932.51 L197.98 931.81 L197.99 931.11 L197.99 930.41 L198 929.71 L198.01 929.02 L198.02 928.32 L198.03 927.62 L198.04 926.92 L198.05 926.22 L198.06 925.52 L198.07 924.82 L198.08 924.12 L198.09 923.42 L198.1 922.72 L198.11 922.02 L198.12 921.32 L198.14 920.62 L198.15 919.92 L198.16 919.22 L198.18 918.52 L198.19 917.82 L198.2 917.12 L198.22 916.42 L198.24 915.72 L198.25 915.02 L198.27 914.32 L198.29 913.62 L198.31 912.92 L198.33 912.22 L198.35 911.52 L198.38 910.82 L198.41 910.12 L198.45 909.42 L198.48 908.72 L198.52 908.03 L198.56 907.33 L198.6 906.63 L198.64 905.93 L198.68 905.23 L198.73 904.53 L198.79 903.84 L198.86 903.14 L198.93 902.44 L199 901.75 L199.07 901.05 L199.14 900.35 L199.2 899.66 L199.25 898.96 L199.3 898.26 L199.34 897.56 L199.38 896.86 L199.43 896.16 L199.47 895.47 L199.51 894.77 L199.55 894.07 L199.6 893.37 L199.65 892.67 L199.7 891.97 L199.76 891.28 L199.82 890.58 L199.88 889.88 L199.95 889.19 L200.02 888.49 L200.09 887.79 L200.17 887.1 L200.24 886.4 L200.32 885.71 L200.4 885.01 L200.48 884.31 L200.57 883.62 L200.66 882.93 L200.76 882.23 L200.88 881.54 L201.01 880.86 L201.16 880.17 L201.32 879.49 L201.46 878.81 L201.61 878.12 L201.75 877.43 L201.9 876.75 L202.06 876.07 L202.23 875.39 L202.41 874.71 L202.6 874.04 L202.81 873.37 L203.03 872.71 L203.27 872.05 L203.53 871.4 L203.81 870.75 L204.13 870.13 L204.48 869.53 L204.88 868.94 L205.31 868.4 L205.79 867.9 L206.32 867.43 L206.88 867.01 L207.48 866.65 L208.1 866.32 L208.74 866.03 L209.38 865.76 L210.04 865.51 L210.71 865.29 L211.38 865.1 L212.06 864.93 L212.74 864.77 L213.42 864.62 L214.1 864.46 L214.79 864.3 L215.47 864.14 L216.15 863.99 L216.83 863.83 L217.52 863.68 L218.2 863.53 L218.88 863.39 L219.57 863.24 L220.25 863.09 L220.94 862.95 L221.62 862.8 L222.31 862.66 L222.99 862.52 L223.68 862.37 L224.36 862.23 L225.05 862.09 L225.74 861.95 L226.42 861.81 L227.11 861.68 L227.79 861.54 L228.48 861.4 L229.17 861.27 L229.85 861.13 L230.54 861 L231.23 860.87 L231.92 860.74 L232.6 860.6 L233.29 860.47 L233.98 860.34 L234.67 860.22 L235.35 860.09 L236.04 859.96 L236.73 859.83 L237.42 859.71 L238.11 859.58 L238.8 859.46 L239.49 859.34 L240.17 859.21 L240.86 859.09 L241.55 858.97 L242.24 858.85 L242.93 858.73 L243.62 858.61 L244.31 858.49 L245 858.38 L245.69 858.26 L246.38 858.14 L247.07 858.03 L247.76 857.91 L248.45 857.8 L249.14 857.69 L249.83 857.57 L250.53 857.46 L251.22 857.35 L251.91 857.24 L252.6 857.13 L253.29 857.02 L253.98 856.91 L254.67 856.81 L255.36 856.7 L256.06 856.59 L256.75 856.49 L257.44 856.38 L258.13 856.28 L258.82 856.17 L259.52 856.07 L260.21 855.97 L260.9 855.87 L261.59 855.76 L262.29 855.66 L262.98 855.56 L263.67 855.46 L264.36 855.36 L265.06 855.27 L265.75 855.17 L266.44 855.07 L267.14 854.97 L267.83 854.88 L268.52 854.78 L269.22 854.69 L269.91 854.59 L270.6 854.5 L271.3 854.41 L271.99 854.31 L272.68 854.22 L273.38 854.13 L274.07 854.04 L274.77 853.95 L275.46 853.86 L276.15 853.77 L276.85 853.68 L277.54 853.59 L278.24 853.5 L278.93 853.41 L279.63 853.32 L280.32 853.24 L281.01 853.15 L281.71 853.06 L282.4 852.98 L283.1 852.89 L283.79 852.81 L284.49 852.72 L285.18 852.64 L285.88 852.56 L286.57 852.47 L287.27 852.39 L287.96 852.31 L288.66 852.23 L289.35 852.15 L290.05 852.06 L290.74 851.98 L291.44 851.9 L292.13 851.82 L292.83 851.74 L293.52 851.67 L294.22 851.59 L294.92 851.51 L295.61 851.43 L296.31 851.35 L297 851.27 L297.7 851.2 L298.39 851.12 L299.09 851.04 L299.78 850.97 L300.48 850.89 L301.18 850.82 L301.87 850.74 L302.57 850.67 L303.26 850.59 L303.96 850.52 L304.66 850.44 L305.35 850.37 L306.05 850.3 L306.74 850.22 L307.44 850.15 L308.14 850.08 L308.83 850.01 L309.53 849.93 L310.22 849.86 L310.92 849.79 L311.62 849.72 L312.31 849.65 L313.01 849.58 L313.71 849.51 L314.4 849.43 L315.1 849.36 L315.79 849.29 L316.49 849.22 L317.19 849.15 L317.88 849.08 L318.58 849.01 L319.28 848.95 L319.97 848.88 L320.67 848.81 L321.37 848.74 L322.06 848.67 L322.76 848.6 L323.46 848.53 L324.15 848.46 L324.85 848.4 L325.54 848.33 L326.24 848.26 L326.94 848.19 L327.63 848.12 L328.33 848.06 L329.03 847.99 L329.72 847.92 L330.42 847.85 L331.12 847.79 L331.81 847.72 L332.51 847.65 L333.21 847.58 L333.9 847.52 L334.6 847.45 L335.3 847.38 L335.99 847.31 L336.69 847.25 L337.39 847.18 L338.08 847.11 L338.78 847.05 L339.48 846.98 L340.17 846.91 L340.87 846.84 L341.57 846.78 L342.26 846.71 L342.96 846.64 L343.66 846.58 L344.35 846.51 L345.05 846.44 L345.75 846.37 L346.44 846.31 L347.14 846.24 L347.84 846.17 L348.53 846.1 L349.23 846.04 L349.93 845.97 L350.62 845.9 L351.32 845.83 L352.02 845.77 L352.71 845.7 L353.41 845.63 L354.11 845.56 L354.8 845.49 L355.5 845.42 L356.2 845.36 L356.89 845.29 L357.59 845.22 L358.28 845.15 L358.98 845.08 L359.68 845.01 L360.37 844.94 L361.07 844.87 L361.77 844.8 L362.46 844.73 L363.16 844.66 L363.86 844.59 L364.55 844.52 L365.25 844.45 L365.94 844.38 L366.64 844.31 L367.34 844.23 L368.03 844.16 L368.73 844.09 L369.43 844.02 L370.12 843.95 L370.82 843.87 L371.51 843.8 L372.21 843.73 L372.91 843.65 L373.6 843.58 L374.3 843.51 L374.99 843.43 L375.69 843.36 L376.39 843.28 L377.08 843.21 L377.78 843.13 L378.47 843.06 L379.17 842.98 L379.86 842.9 L380.56 842.83 L381.26 842.75 L381.95 842.67 L382.65 842.6 L383.34 842.52 L384.04 842.44 L384.73 842.36 L385.43 842.28 L386.12 842.2 L386.82 842.12 L387.51 842.04 L388.21 841.96 L388.9 841.88 L389.6 841.8 L390 841.8 L391.2 1013 L391.3 1013 L391.34 1012.3 L391.38 1011.6 L391.41 1010.91 L391.45 1010.21 L391.49 1009.51 L391.53 1008.81 L391.57 1008.11 L391.6 1007.41 L391.64 1006.72 L391.68 1006.02 L391.72 1005.32 L391.75 1004.62 L391.79 1003.92 L391.83 1003.23 L391.87 1002.53 L391.9 1001.83 L391.94 1001.13 L391.98 1000.43 L392.01 999.73 L392.05 999.04 L392.09 998.34 L392.13 997.64 L392.17 996.94 L392.2 996.24 L392.24 995.55 L392.28 994.85 L392.32 994.15 L392.36 993.45 L392.4 992.75 L392.43 992.06 L392.47 991.36 L392.51 990.66 L392.54 989.96 L392.58 989.26 L392.61 988.56 L392.64 987.87 L392.68 987.17 L392.71 986.47 L392.74 985.77 L392.76 985.07 L392.79 984.37 L392.82 983.67 L392.84 982.98 L392.86 982.28 L392.89 981.58 L392.91 980.88 L392.93 980.18 L392.95 979.48 L392.97 978.78 L392.99 978.08 L393.01 977.38 L393.03 976.69 L393.05 975.99 L393.07 975.29 L393.09 974.59 L393.11 973.89 L393.13 973.19 L393.15 972.49 L393.18 971.79 L393.2 971.09 L393.22 970.4 L393.25 969.7 L393.27 969 L393.3 968.3 L393.32 967.6 L393.35 966.9 L393.38 966.2 L393.41 965.51 L393.43 964.81 L393.46 964.11 L393.49 963.41 L393.52 962.71 L393.55 962.01 L393.58 961.31 L393.61 960.62 L393.64 959.92 L393.68 959.22 L393.71 958.52 L393.74 957.82 L393.78 957.12 L393.81 956.42 L393.85 955.73 L393.88 955.03 L393.92 954.33 L393.95 953.63 L393.99 952.93 L394.03 952.24 L394.06 951.54 L394.1 950.84 L394.14 950.14 L394.18 949.44 L394.23 948.75 L394.27 948.05 L394.32 947.35 L394.36 946.65 L394.41 945.96 L394.46 945.26 L394.51 944.56 L394.56 943.86 L394.61 943.17 L394.66 942.47 L394.71 941.77 L394.76 941.07 L394.81 940.38 L394.87 939.68 L394.92 938.98 L394.97 938.28 L395.02 937.59 L395.07 936.89 L395.12 936.19 L395.17 935.49 L395.22 934.8 L395.27 934.1 L395.31 933.4 L395.36 932.7 L395.4 932.01 L395.45 931.31 L395.49 930.61 L395.54 929.91 L395.58 929.22 L395.62 928.52 L395.66 927.82 L395.71 927.12 L395.75 926.42 L395.79 925.73 L395.83 925.03 L395.87 924.33 L395.92 923.63 L395.96 922.93 L396 922.24 L396.05 921.54 L396.09 920.84 L396.14 920.14 L396.19 919.45 L396.23 918.75 L396.28 918.05 L396.33 917.35 L396.38 916.66 L396.43 915.96 L396.49 915.26 L396.54 914.56 L396.59 913.87 L396.65 913.17 L396.71 912.47 L396.77 911.78 L396.83 911.08 L396.89 910.38 L396.95 909.69 L397.01 908.99 L397.08 908.29 L397.14 907.6 L397.21 906.9 L397.28 906.21 L397.35 905.51 L397.42 904.82 L397.49 904.12 L397.57 903.42 L397.64 902.73 L397.72 902.03 L397.81 901.34 L397.89 900.65 L397.98 899.95 L398.08 899.26 L398.18 898.57 L398.29 897.88 L398.4 897.19 L398.52 896.5 L398.65 895.81 L398.78 895.12 L398.91 894.44 L399.05 893.75 L399.19 893.07 L399.33 892.38 L399.49 891.7 L399.65 891.02 L399.81 890.34 L399.99 889.67 L400.18 888.99 L400.38 888.32 L400.59 887.65 L400.8 886.99 L401.02 886.32 L401.25 885.66 L401.48 885.01 L401.73 884.35 L401.99 883.7 L402.25 883.05 L402.53 882.41 L402.81 881.77 L403.11 881.14 L403.41 880.51 L403.73 879.88 L404.06 879.26 L404.41 878.65 L404.77 878.06 L405.14 877.47 L405.55 876.91 L405.97 876.35 L406.4 875.79 L406.84 875.24 L407.26 874.69 L407.68 874.13 L408.11 873.57 L408.54 873.02 L408.97 872.47 L409.42 871.94 L409.88 871.41 L410.35 870.88 L410.82 870.37 L411.32 869.88 L411.83 869.4 L412.35 868.93 L412.88 868.47 L413.43 868.02 L413.98 867.6 L414.55 867.19 L415.13 866.82 L415.73 866.47 L416.34 866.14 L416.97 865.82 L417.6 865.52 L418.24 865.23 L418.89 864.94 L419.52 864.66 L420.17 864.38 L420.81 864.11 L421.46 863.85 L422.11 863.59 L422.77 863.34 L423.42 863.1 L424.08 862.87 L424.74 862.64 L425.41 862.42 L426.07 862.2 L426.74 861.99 L427.41 861.8 L428.09 861.62 L428.76 861.46 L429.45 861.31 L430.14 861.18 L430.82 861.05 L431.51 860.91 L432.19 860.77 L432.88 860.63 L433.56 860.49 L434.25 860.35 L434.93 860.22 L435.62 860.08 L436.31 859.94 L436.99 859.81 L437.68 859.67 L438.36 859.54 L439.05 859.41 L439.74 859.27 L440.42 859.14 L441.11 859.01 L441.8 858.88 L442.48 858.75 L443.17 858.62 L443.86 858.49 L444.54 858.36 L445.23 858.23 L445.92 858.1 L446.61 857.97 L447.29 857.84 L447.98 857.72 L448.67 857.59 L449.36 857.47 L450.04 857.34 L450.73 857.22 L451.42 857.09 L452.11 856.97 L452.8 856.84 L453.49 856.72 L454.17 856.6 L454.86 856.48 L455.55 856.36 L456.24 856.23 L456.93 856.11 L457.62 855.99 L458.31 855.87 L459 855.76 L459.68 855.64 L460.37 855.52 L461.06 855.4 L461.75 855.28 L462.44 855.17 L463.13 855.05 L463.82 854.94 L464.51 854.82 L465.2 854.7 L465.89 854.59 L466.58 854.48 L467.27 854.36 L467.96 854.25 L468.65 854.14 L469.34 854.02 L470.03 853.91 L470.72 853.8 L471.41 853.69 L472.1 853.58 L472.79 853.47 L473.48 853.36 L474.17 853.25 L474.86 853.14 L475.55 853.03 L476.24 852.92 L476.93 852.81 L477.62 852.7 L478.31 852.6 L479.01 852.49 L479.7 852.38 L480.39 852.28 L481.08 852.17 L481.77 852.06 L482.46 851.96 L483.15 851.85 L483.84 851.75 L484.53 851.64 L485.23 851.54 L485.92 851.44 L486.61 851.33 L487.3 851.23 L487.99 851.13 L488.68 851.02 L489.38 850.92 L490.07 850.82 L490.76 850.72 L491.45 850.62 L492.14 850.51 L492.83 850.41 L493.53 850.31 L494.22 850.21 L494.91 850.11 L495.6 850.01 L496.29 849.91 L496.99 849.81 L497.68 849.72 L498.37 849.62 L499.06 849.52 L499.75 849.42 L500.45 849.32 L501.14 849.22 L501.83 849.13 L502.52 849.03 L503.22 848.93 L503.91 848.84 L504.6 848.74 L505.29 848.64 L505.99 848.55 L506.68 848.45 L507.37 848.36 L508.06 848.26 L508.76 848.17 L509.45 848.07 L510.14 847.98 L510.84 847.88 L511.53 847.79 L512.22 847.69 L512.91 847.6 L513.61 847.5 L514.3 847.41 L514.99 847.32 L515.68 847.22 L516.38 847.13 L517.07 847.04 L517.76 846.94 L518.46 846.85 L519.15 846.76 L519.84 846.67 L520.54 846.57 L521.23 846.48 L521.92 846.39 L522.62 846.3 L523.31 846.2 L524 846.11 L524.69 846.02 L525.39 845.93 L526.08 845.84 L526.77 845.75 L527.47 845.66 L528.16 845.56 L528.85 845.47 L529.55 845.38 L530.24 845.29 L530.93 845.2 L531.63 845.11 L532.32 845.02 L533.01 844.93 L533.71 844.84 L534.4 844.75 L535.09 844.66 L535.79 844.57 L536.48 844.48 L537.17 844.39 L537.87 844.3 L538.56 844.21 L539.25 844.12 L539.95 844.03 L540.64 843.94 L541.33 843.85 L542.03 843.76 L542.72 843.67 L543.41 843.58 L544.11 843.49 L544.8 843.4 L545.49 843.31 L546.19 843.22 L546.88 843.13 L547.57 843.04 L548.27 842.95 L548.96 842.86 L549.65 842.77 L550.35 842.68 L551.04 842.59 L551.73 842.5 L552.43 842.41 L553.12 842.32 L553.81 842.23 L554.51 842.14 L555.2 842.05 L555.89 841.96 L556.59 841.87 L557.28 841.78 L557.97 841.68 L558.67 841.59 L559.36 841.5 L560.05 841.41 L560.75 841.32 L561.44 841.23 L562.13 841.14 L562.83 841.05 L563.52 840.96 L564.21 840.87 L564.91 840.78 L565.6 840.68 L566.29 840.59 L566.98 840.5 L567.68 840.41 L568.37 840.32 L569.06 840.23 L569.76 840.13 L570.45 840.04 L571.14 839.95 L571.84 839.86 L572.53 839.76 L573.22 839.67 L573.92 839.58 L574.61 839.48 L575.3 839.39 L575.99 839.3 L576.69 839.2 L577.38 839.11 L578.07 839.02 L578.77 838.92 L579.46 838.83 L580.15 838.73 L580.84 838.64 L581.54 838.54 L582.23 838.45 L582.92 838.35 L583.61 838.26 L584.31 838.16 L585 838.07 L585.69 837.97 L586.38 837.87 L587.08 837.78 L587.77 837.68 L588.46 837.58 L589.15 837.49 L589.85 837.39 L590.54 837.29 L591.23 837.19 L591.92 837.1 L592.62 837 L593.31 836.9 L594 836.8" fill="none" stroke="#000" stroke-width="2.0" stroke-linejoin="round" stroke-linecap="butt"/>
<line x1="196.25" y1="795.5" x2="196.25" y2="826.55" stroke="#000" stroke-width="2.0"/><polygon points="192.05,825.55 200.45,825.55 196.25,833.75" fill="#000"/>
<line x1="389" y1="788.25" x2="389" y2="819.55" stroke="#000" stroke-width="2.0"/><polygon points="384.8,818.55 393.2,818.55 389,826.75" fill="#000"/>
<text transform="translate(93.55 894.1) scale(0.9941 1)" font-size="19.4" fill="#000" stroke="#000" stroke-width="0.35" stroke-linejoin="round">0.5% D<tspan font-size="13.58" dy="5.04">2</tspan><tspan dy="-5.04">O</tspan></text>
<text transform="translate(246.13 894.3) scale(0.9767 1)" font-size="19.4" fill="#000" stroke="#000" stroke-width="0.35" stroke-linejoin="round">1.0% D<tspan font-size="13.58" dy="5.04">2</tspan><tspan dy="-5.04">O</tspan></text>
<text transform="translate(457.6 894.3) scale(0.997 1)" font-size="19.4" fill="#000" stroke="#000" stroke-width="0.35" stroke-linejoin="round">2.0% D<tspan font-size="13.58" dy="5.04">2</tspan><tspan dy="-5.04">O</tspan></text>
<line x1="455.6" y1="1026.8" x2="558.8" y2="1026.8" stroke="#000" stroke-width="3"/>
<text transform="translate(473.13 1016.9) scale(1.0206 1)" font-size="21.7" fill="#000" stroke="#000" stroke-width="0.35" stroke-linejoin="round">30 min</text>
<text transform="translate(93.7 1028.3) scale(1.0235 1)" font-size="21.7" font-weight="bold" fill="#000">With 2 µM FMN</text>
<text transform="translate(305.74 1091.2) scale(1.0109 1)" font-size="21.7" fill="#000" stroke="#000" stroke-width="0.35" stroke-linejoin="round">Time</text>
</g>
</svg>
</body>
</html>
